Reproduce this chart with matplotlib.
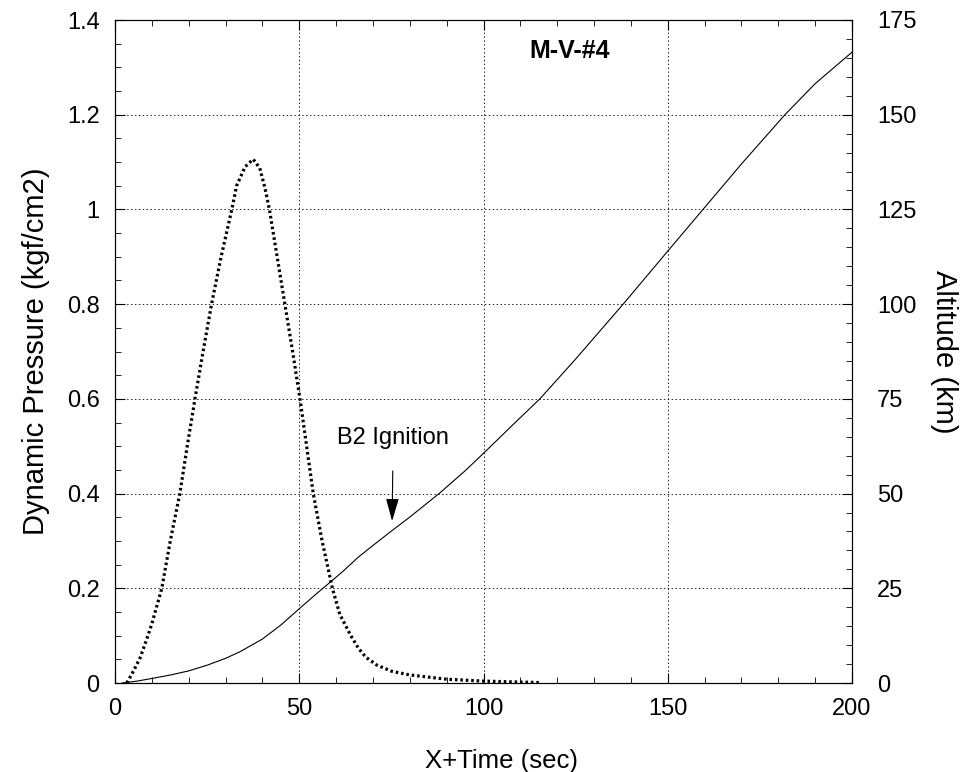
import matplotlib
matplotlib.use("Agg")
import matplotlib.pyplot as plt
from matplotlib.ticker import MultipleLocator

# dynamic pressure (kgf/cm2) vs X+time (sec)
t_q = [3.2, 5, 6.8, 8.5, 10, 12.7, 15, 17.6, 19.6, 21.7, 23.9, 26.2, 28.8, 31.7, 33,
       35.3, 37.5, 39.3, 40.7, 41.9, 44, 46.1, 48.2, 50.2, 52, 53.8, 56.2, 59, 61,
       64, 66, 68, 71, 75, 80, 90, 100, 115]
q = [0, 0.025, 0.053, 0.09, 0.125, 0.2, 0.3, 0.4, 0.5, 0.6, 0.7, 0.8, 0.9, 1.0, 1.05,
     1.09, 1.106, 1.087, 1.045, 1.0, 0.9, 0.8, 0.7, 0.6, 0.5, 0.4, 0.3, 0.2, 0.145,
     0.1, 0.074, 0.055, 0.038, 0.025, 0.017, 0.008, 0.004, 0.001]

# altitude (km) vs X+time (sec)
t_alt = [2, 6, 10, 15, 20, 25, 30, 34, 40, 45, 50, 54, 58.5, 62, 66, 70, 74.6, 80,
         88.2, 95, 100.4, 109.4, 115.3, 125, 137.9, 150, 160, 170, 181.8, 190, 200]
alt = [0, 0.5, 1.2, 2.1, 3.2, 4.7, 6.5, 8.3, 11.6, 15.3, 19.6, 23, 26.7, 29.6, 33.2,
       36.3, 39.8, 43.8, 50.2, 56, 61, 69.5, 75, 85.5, 100, 114, 125.5, 137, 150,
       158.2, 166.5]

plt.rcParams['font.family'] = ['Liberation Sans', 'DejaVu Sans']

fig = plt.figure(figsize=(9.73, 7.72), dpi=100)
ax = fig.add_axes([115/973, 1-683/772, (852-115)/973, (683-20)/772])
ax2 = ax.twinx()

ax.plot(t_q, q, color='k', lw=2.3, linestyle=(0, (0.8, 0.9)))
ax2.plot(t_alt, alt, color='k', lw=0.8)

ax.set_xlim(0, 200)
ax.set_ylim(0, 1.4)
ax2.set_ylim(0, 175)

ax.xaxis.set_major_locator(MultipleLocator(50))
ax.xaxis.set_minor_locator(MultipleLocator(10))
ax.yaxis.set_minor_locator(MultipleLocator(0.05))
ax2.yaxis.set_major_locator(MultipleLocator(25))
ax2.yaxis.set_minor_locator(MultipleLocator(5))

ax.set_yticks([0, 0.2, 0.4, 0.6, 0.8, 1.0, 1.2, 1.4])
ax.set_yticklabels(['0', '0.2', '0.4', '0.6', '0.8', '1', '1.2', '1.4'])

ax.grid(True, which='major', color='#222222', lw=0.7, linestyle=(0, (1.5, 2.5)))

ax.tick_params(which='both', direction='in', top=True, right=False, labelsize=17)
ax.tick_params(which='major', length=7, width=0.8)
ax.tick_params(which='minor', length=4, width=0.6)
ax.tick_params(axis='y', pad=11)
ax.tick_params(axis='x', pad=11)
ax2.tick_params(which='both', direction='in', labelsize=17, pad=18)
ax2.tick_params(which='major', length=7, width=0.8)
ax2.tick_params(which='minor', length=4, width=0.6)

for a in (ax, ax2):
    for s in a.spines.values():
        s.set_linewidth(0.8)

ax.set_xlabel('X+Time (sec)', fontsize=18.5)
ax.xaxis.set_label_coords(0.524, -0.1)
ax.set_ylabel('Dynamic Pressure (kgf/cm2)', fontsize=21, labelpad=12)
ax2.set_ylabel('Altitude (km)', fontsize=21, rotation=270, labelpad=30)

ax.text(123.5, 1.335, 'M-V-#4', fontsize=18, fontweight='bold', ha='center', va='center')
ax.annotate('B2 Ignition', xy=(75.2, 0.342), xytext=(75.5, 0.518),
            fontsize=17, ha='center', va='center',
            arrowprops=dict(arrowstyle='-|>,head_length=0.7,head_width=0.2',
                            color='k', lw=0.8, mutation_scale=20,
                            shrinkA=14, shrinkB=0))

fig.savefig('out.png', dpi=100)
